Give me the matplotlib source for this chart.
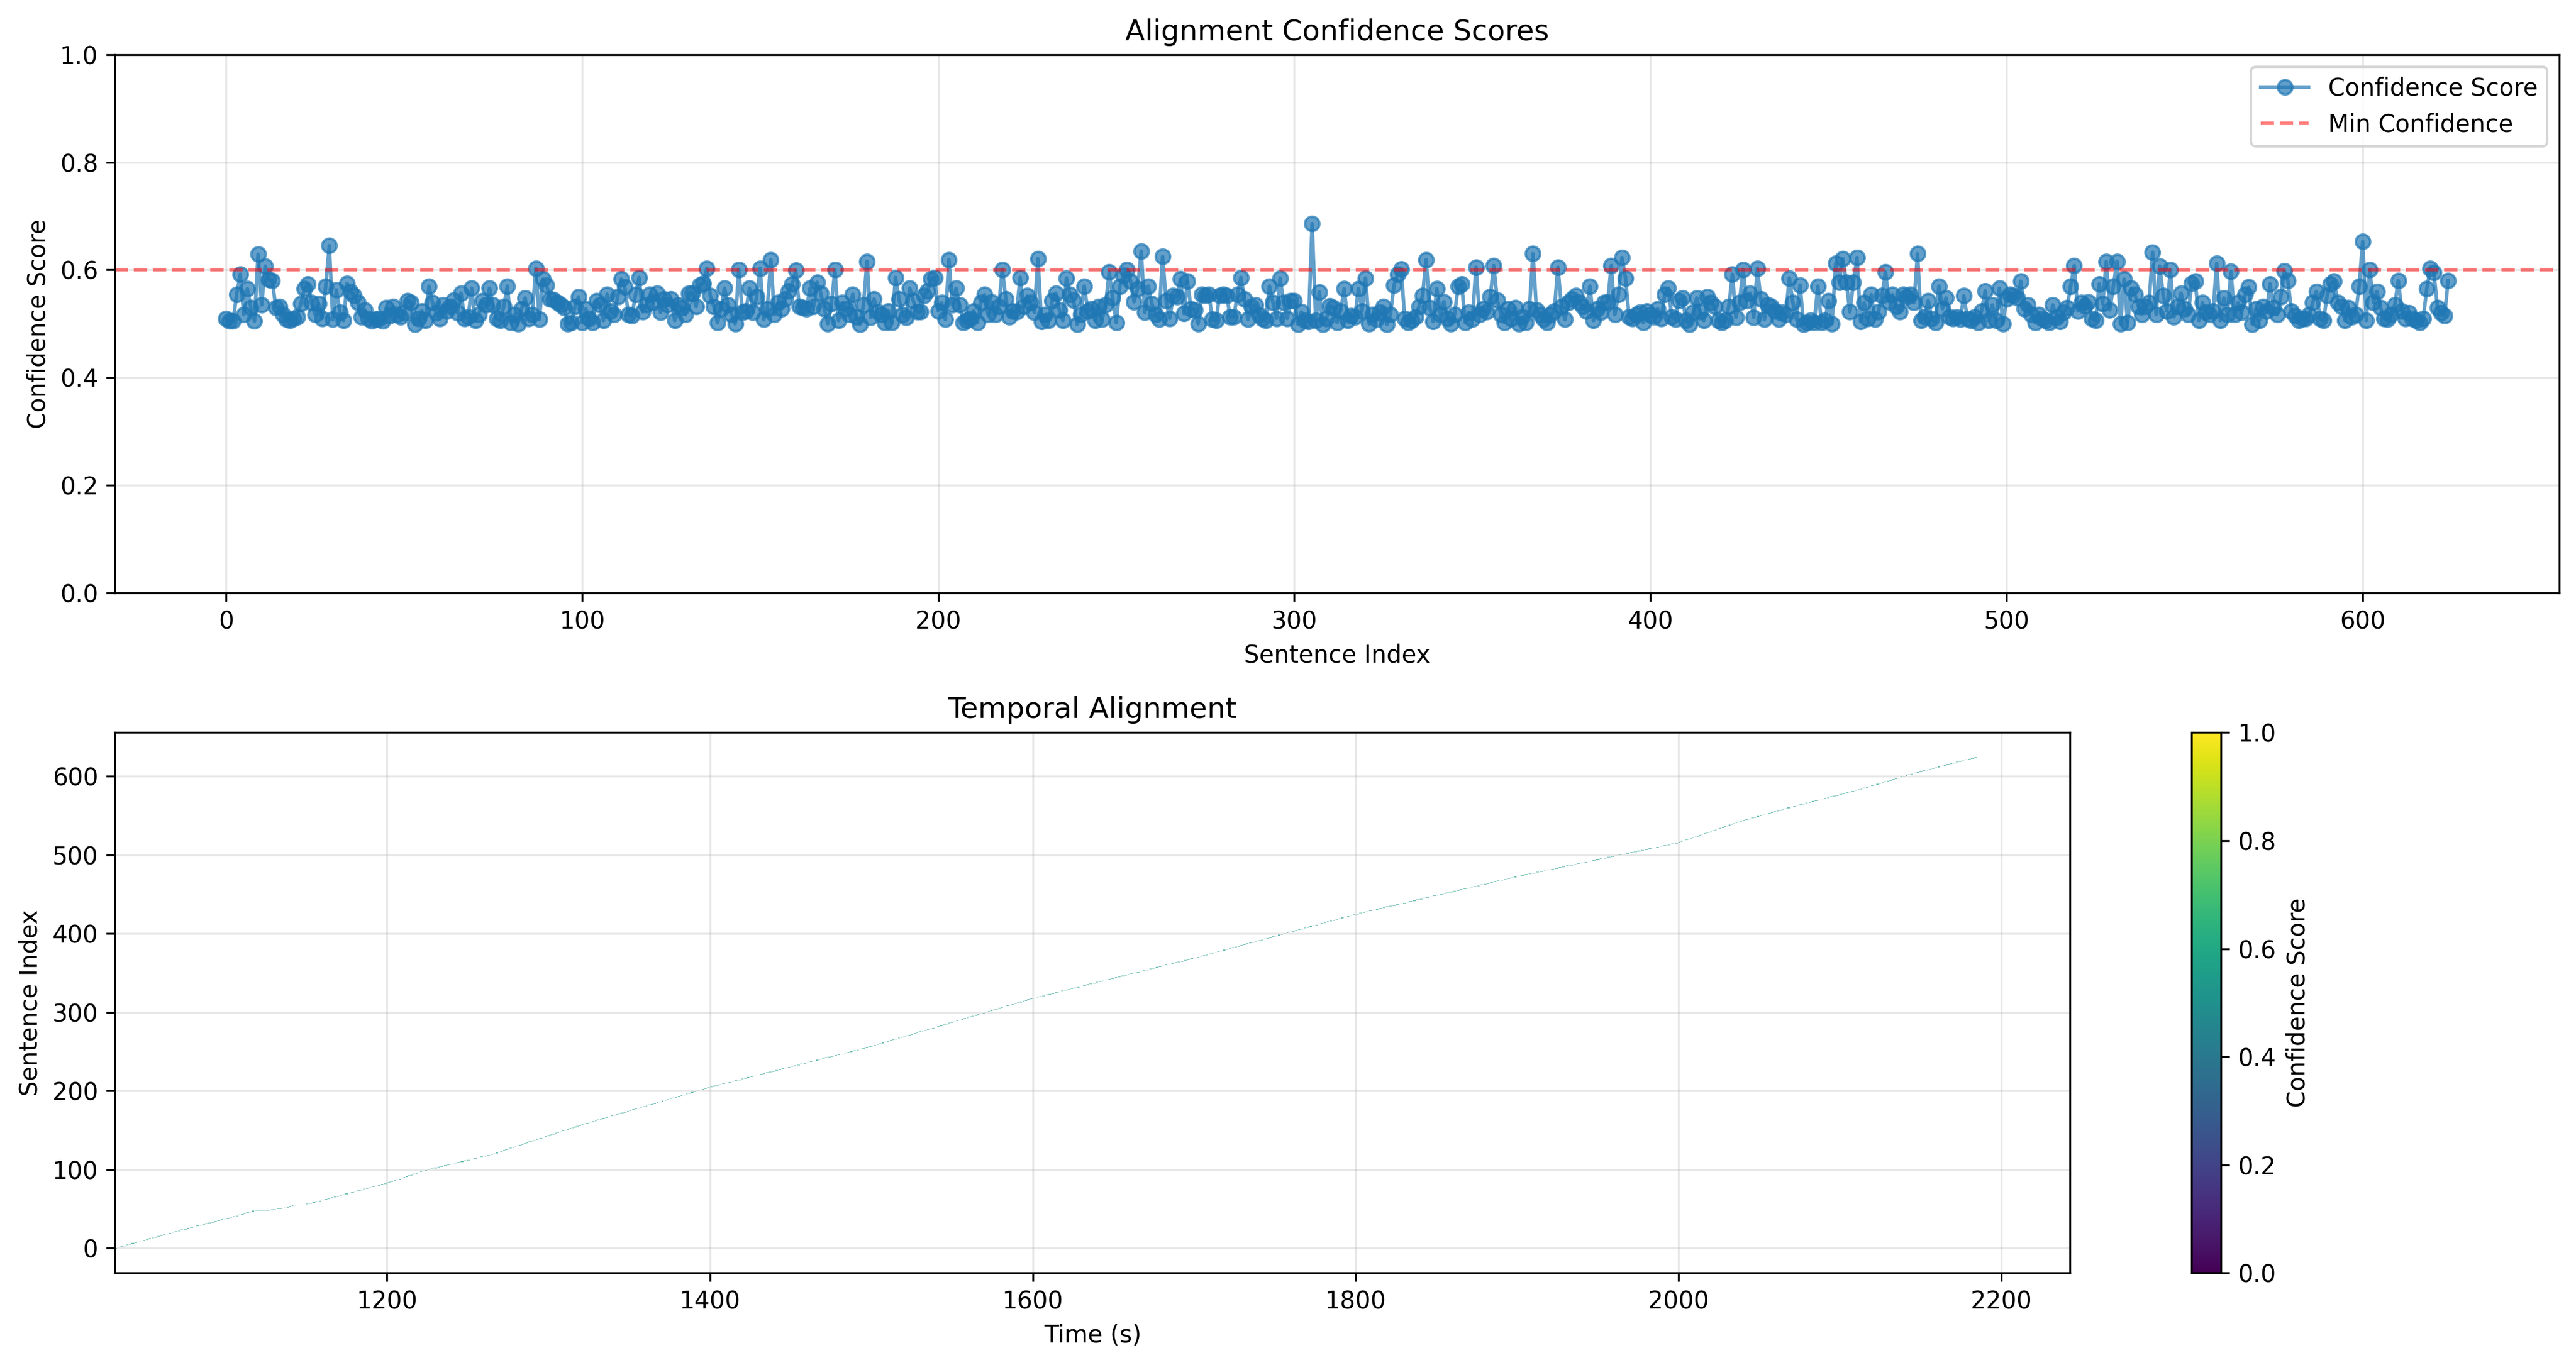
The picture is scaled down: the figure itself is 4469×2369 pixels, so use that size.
import numpy as np
import matplotlib
matplotlib.use("Agg")
from matplotlib import pyplot as plt
from matplotlib.cm import ScalarMappable
from matplotlib.colors import Normalize

# confidence score per sentence
confidence = [
    0.51, 0.505, 0.505, 0.555, 0.592, 0.517, 0.565, 0.53, 0.505, 0.629,
    0.535, 0.607, 0.582, 0.58, 0.53, 0.532, 0.517, 0.508, 0.506, 0.51,
    0.513, 0.537, 0.565, 0.574, 0.539, 0.517, 0.537, 0.51, 0.57, 0.645,
    0.508, 0.563, 0.521, 0.506, 0.575, 0.56, 0.552, 0.54, 0.513, 0.526,
    0.51, 0.505, 0.508, 0.51, 0.505, 0.53, 0.515, 0.532, 0.517, 0.513,
    0.52, 0.543, 0.539, 0.499, 0.51, 0.524, 0.506, 0.57, 0.539, 0.52,
    0.51, 0.535, 0.524, 0.532, 0.544, 0.52, 0.557, 0.51, 0.513, 0.566,
    0.506, 0.517, 0.543, 0.535, 0.566, 0.535, 0.51, 0.506, 0.532, 0.57,
    0.502, 0.517, 0.50, 0.528, 0.548, 0.51, 0.517, 0.603, 0.508, 0.583,
    0.572, 0.546, 0.545, 0.539, 0.535, 0.53, 0.50, 0.502, 0.532, 0.55,
    0.502, 0.528, 0.51, 0.502, 0.543, 0.535, 0.506, 0.555, 0.524, 0.517,
    0.55, 0.583, 0.568, 0.517, 0.515, 0.554, 0.586, 0.522, 0.535, 0.554,
    0.54, 0.557, 0.521, 0.546, 0.535, 0.546, 0.506, 0.535, 0.53, 0.517,
    0.557, 0.557, 0.532, 0.572, 0.575, 0.603, 0.552, 0.532, 0.502, 0.528,
    0.566, 0.535, 0.517, 0.50, 0.601, 0.521, 0.524, 0.566, 0.521, 0.55,
    0.603, 0.508, 0.528, 0.619, 0.517, 0.539, 0.528, 0.546, 0.561, 0.574,
    0.599, 0.532, 0.53, 0.528, 0.566, 0.532, 0.577, 0.557, 0.528, 0.50,
    0.537, 0.60, 0.506, 0.539, 0.528, 0.517, 0.555, 0.513, 0.499, 0.535,
    0.616, 0.512, 0.546, 0.522, 0.517, 0.502, 0.524, 0.502, 0.586, 0.546,
    0.517, 0.512, 0.566, 0.543, 0.522, 0.522, 0.552, 0.561, 0.583, 0.586,
    0.524, 0.539, 0.508, 0.619, 0.535, 0.566, 0.535, 0.502, 0.506, 0.51,
    0.524, 0.502, 0.539, 0.554, 0.517, 0.541, 0.517, 0.532, 0.601, 0.546,
    0.513, 0.524, 0.522, 0.586, 0.532, 0.552, 0.539, 0.521, 0.621, 0.504,
    0.517, 0.506, 0.543, 0.557, 0.526, 0.506, 0.585, 0.554, 0.544, 0.499,
    0.517, 0.57, 0.524, 0.528, 0.506, 0.532, 0.508, 0.535, 0.596, 0.548,
    0.502, 0.57, 0.59, 0.601, 0.579, 0.541, 0.565, 0.635, 0.521, 0.57,
    0.537, 0.517, 0.508, 0.625, 0.543, 0.51, 0.552, 0.55, 0.583, 0.519,
    0.579, 0.528, 0.526, 0.50, 0.555, 0.552, 0.555, 0.508, 0.506, 0.552,
    0.555, 0.552, 0.513, 0.513, 0.554, 0.586, 0.546, 0.508, 0.532, 0.535,
    0.517, 0.51, 0.506, 0.57, 0.539, 0.51, 0.585, 0.539, 0.51, 0.543,
    0.543, 0.499, 0.522, 0.506, 0.504, 0.686, 0.506, 0.559, 0.499, 0.51,
    0.533, 0.53, 0.502, 0.524, 0.565, 0.506, 0.515, 0.513, 0.565, 0.524,
    0.585, 0.50, 0.517, 0.508, 0.521, 0.532, 0.499, 0.517, 0.572, 0.592,
    0.602, 0.51, 0.502, 0.506, 0.513, 0.532, 0.552, 0.619, 0.53, 0.504,
    0.565, 0.517, 0.541, 0.51, 0.50, 0.517, 0.57, 0.574, 0.502, 0.521,
    0.508, 0.605, 0.517, 0.528, 0.522, 0.55, 0.608, 0.544, 0.517, 0.502,
    0.528, 0.51, 0.53, 0.50, 0.513, 0.502, 0.528, 0.63, 0.526, 0.517,
    0.508, 0.502, 0.517, 0.524, 0.605, 0.532, 0.508, 0.539, 0.546, 0.552,
    0.539, 0.532, 0.524, 0.57, 0.506, 0.528, 0.521, 0.539, 0.541, 0.608,
    0.517, 0.554, 0.623, 0.585, 0.513, 0.51, 0.517, 0.521, 0.502, 0.524,
    0.517, 0.513, 0.528, 0.51, 0.554, 0.566, 0.513, 0.508, 0.543, 0.548,
    0.506, 0.499, 0.521, 0.548, 0.522, 0.506, 0.55, 0.539, 0.532, 0.506,
    0.502, 0.506, 0.532, 0.592, 0.512, 0.539, 0.601, 0.543, 0.557, 0.512,
    0.603, 0.546, 0.508, 0.535, 0.532, 0.524, 0.508, 0.521, 0.517, 0.585,
    0.539, 0.508, 0.572, 0.499, 0.502, 0.506, 0.502, 0.57, 0.502, 0.506,
    0.543, 0.50, 0.612, 0.577, 0.621, 0.577, 0.522, 0.577, 0.623, 0.504,
    0.539, 0.51, 0.554, 0.508, 0.522, 0.552, 0.596, 0.541, 0.554, 0.532,
    0.522, 0.554, 0.55, 0.554, 0.539, 0.63, 0.506, 0.513, 0.543, 0.51,
    0.502, 0.57, 0.528, 0.548, 0.513, 0.51, 0.513, 0.508, 0.552, 0.51,
    0.506, 0.513, 0.502, 0.524, 0.561, 0.506, 0.535, 0.506, 0.566, 0.50,
    0.546, 0.554, 0.552, 0.548, 0.579, 0.528, 0.535, 0.517, 0.502, 0.517,
    0.51, 0.506, 0.502, 0.535, 0.512, 0.504, 0.521, 0.53, 0.57, 0.608,
    0.524, 0.539, 0.533, 0.541, 0.51, 0.506, 0.574, 0.537, 0.616, 0.526,
    0.57, 0.616, 0.50, 0.583, 0.502, 0.566, 0.555, 0.532, 0.517, 0.532,
    0.539, 0.633, 0.517, 0.607, 0.552, 0.524, 0.60, 0.513, 0.532, 0.557,
    0.528, 0.517, 0.575, 0.579, 0.506, 0.539, 0.521, 0.517, 0.524, 0.612,
    0.506, 0.548, 0.517, 0.597, 0.517, 0.539, 0.521, 0.554, 0.568, 0.499,
    0.528, 0.506, 0.532, 0.524, 0.574, 0.53, 0.517, 0.55, 0.598, 0.58,
    0.524, 0.515, 0.506, 0.51, 0.51, 0.517, 0.54, 0.56, 0.51, 0.506,
    0.552, 0.574, 0.579, 0.54, 0.532, 0.506, 0.53, 0.513, 0.517, 0.57,
    0.653, 0.506, 0.60, 0.54, 0.56, 0.53, 0.51, 0.508, 0.517, 0.535,
    0.58, 0.524, 0.51, 0.52, 0.51, 0.506, 0.502, 0.51, 0.565, 0.603,
    0.595, 0.53, 0.52, 0.515, 0.58,
]

# sentence start times in seconds
start_time = [
    1031.5, 1033.2, 1035.1, 1036.6, 1038.5, 1040.3, 1041.9, 1043.8, 1045.4, 1047.3,
    1049.1, 1050.7, 1052.6, 1054.2, 1056.0, 1057.9, 1059.4, 1061.3, 1063.0, 1064.8,
    1066.6, 1068.4, 1070.5, 1072.2, 1074.3, 1076.1, 1078.0, 1080.0, 1081.8, 1083.7,
    1085.5, 1087.5, 1089.3, 1091.3, 1093.1, 1095.0, 1096.9, 1098.8, 1100.7, 1102.6,
    1104.5, 1106.2, 1107.9, 1109.6, 1111.2, 1112.9, 1114.6, 1116.3, 1118.5, 1128.0,
    1132.0, 1136.5, 1138.0, 1139.6, 1141.0, 1142.4, 1149.8, 1151.8, 1153.8, 1155.8,
    1157.8, 1159.5, 1161.5, 1163.2, 1165.1, 1166.9, 1168.8, 1170.5, 1172.4, 1174.2,
    1176.1, 1177.9, 1179.7, 1181.6, 1183.3, 1185.2, 1187.0, 1188.9, 1190.6, 1192.5,
    1194.4, 1196.2, 1198.1, 1200.0, 1201.4, 1202.9, 1204.4, 1205.8, 1207.4, 1208.8,
    1210.3, 1211.8, 1213.2, 1214.7, 1216.2, 1217.6, 1219.1, 1220.6, 1222.0, 1223.5,
    1225.0, 1227.1, 1229.0, 1231.2, 1233.2, 1235.3, 1237.3, 1239.4, 1241.4, 1243.5,
    1245.5, 1247.6, 1249.6, 1251.7, 1253.7, 1255.8, 1257.8, 1259.9, 1261.9, 1264.0,
    1266.0, 1267.3, 1269.0, 1270.2, 1271.9, 1273.1, 1274.8, 1276.0, 1277.7, 1279.0,
    1280.6, 1281.9, 1283.5, 1284.8, 1286.4, 1287.6, 1289.3, 1290.5, 1292.2, 1293.5,
    1295.0, 1296.7, 1298.0, 1299.6, 1301.1, 1302.4, 1304.1, 1305.5, 1306.9, 1308.6,
    1309.9, 1311.6, 1313.0, 1314.4, 1316.1, 1317.4, 1319.1, 1320.5, 1322.0, 1323.5,
    1325.3, 1326.9, 1328.6, 1330.2, 1331.9, 1333.5, 1335.3, 1336.8, 1338.6, 1340.2,
    1341.9, 1343.5, 1345.2, 1346.8, 1348.6, 1350.1, 1351.9, 1353.5, 1355.2, 1356.8,
    1358.5, 1360.1, 1361.9, 1363.4, 1365.2, 1366.8, 1368.5, 1370.1, 1371.8, 1373.4,
    1375.2, 1376.7, 1378.5, 1380.1, 1381.8, 1383.4, 1385.1, 1386.7, 1388.5, 1390.0,
    1391.8, 1393.4, 1395.1, 1396.7, 1398.4, 1400.0, 1401.8, 1403.9, 1405.7, 1407.7,
    1409.6, 1411.6, 1413.4, 1415.4, 1417.3, 1419.3, 1421.1, 1423.2, 1425.0, 1427.0,
    1428.9, 1430.9, 1432.7, 1434.8, 1436.6, 1438.6, 1440.5, 1442.5, 1444.3, 1446.3,
    1448.2, 1450.2, 1452.0, 1454.1, 1455.9, 1457.9, 1459.8, 1461.8, 1463.6, 1465.7,
    1467.5, 1469.5, 1471.4, 1473.4, 1475.2, 1477.2, 1479.1, 1481.1, 1482.9, 1485.0,
    1486.8, 1488.8, 1490.7, 1492.7, 1494.5, 1496.5, 1498.3, 1500.0, 1501.5, 1503.3,
    1504.9, 1506.5, 1508.2, 1509.8, 1511.4, 1513.1, 1514.7, 1516.4, 1518.0, 1519.7,
    1521.3, 1522.9, 1524.6, 1526.2, 1527.9, 1529.5, 1531.1, 1532.8, 1534.4, 1536.1,
    1537.7, 1539.3, 1541.0, 1542.6, 1544.3, 1545.9, 1547.5, 1549.2, 1550.8, 1552.5,
    1554.1, 1555.7, 1557.4, 1559.0, 1560.7, 1562.3, 1563.9, 1565.6, 1567.2, 1568.9,
    1570.5, 1572.1, 1573.8, 1575.4, 1577.1, 1578.7, 1580.3, 1582.0, 1583.6, 1585.3,
    1586.9, 1588.5, 1590.2, 1591.8, 1593.5, 1595.1, 1596.7, 1598.4, 1600.0, 1601.9,
    1604.0, 1605.9, 1607.8, 1609.8, 1611.7, 1613.7, 1615.6, 1617.6, 1619.5, 1621.5,
    1623.4, 1625.4, 1627.3, 1629.3, 1631.2, 1633.2, 1635.1, 1637.1, 1639.0, 1641.0,
    1642.9, 1644.9, 1646.8, 1648.8, 1650.7, 1652.7, 1654.6, 1656.6, 1658.5, 1660.5,
    1662.4, 1664.4, 1666.3, 1668.3, 1670.2, 1672.2, 1674.1, 1676.1, 1678.0, 1680.0,
    1681.9, 1683.9, 1685.8, 1687.8, 1689.7, 1691.7, 1693.6, 1695.6, 1697.6, 1700.0,
    1701.7, 1703.5, 1705.3, 1707.1, 1708.9, 1710.7, 1712.5, 1714.2, 1716.0, 1717.9,
    1719.6, 1721.4, 1723.2, 1725.0, 1726.8, 1728.6, 1730.3, 1732.1, 1734.0, 1735.7,
    1737.5, 1739.3, 1741.1, 1742.9, 1744.6, 1746.4, 1748.2, 1750.0, 1751.8, 1753.6,
    1755.4, 1757.1, 1758.9, 1760.7, 1762.5, 1764.3, 1766.1, 1767.9, 1769.6, 1771.4,
    1773.2, 1775.0, 1776.8, 1778.6, 1780.4, 1782.1, 1783.9, 1785.7, 1787.5, 1789.3,
    1791.1, 1792.9, 1794.6, 1796.4, 1798.2, 1800.0, 1802.0, 1804.2, 1806.2, 1808.3,
    1810.4, 1812.5, 1814.6, 1816.7, 1818.7, 1820.8, 1822.9, 1825.0, 1827.1, 1829.2,
    1831.2, 1833.3, 1835.4, 1837.5, 1839.6, 1841.7, 1843.7, 1845.8, 1847.9, 1850.0,
    1852.1, 1854.2, 1856.2, 1858.3, 1860.4, 1862.5, 1864.6, 1866.7, 1868.7, 1870.8,
    1872.9, 1875.0, 1877.1, 1879.2, 1881.2, 1883.3, 1885.4, 1887.5, 1889.6, 1891.7,
    1893.7, 1895.8, 1897.9, 1900.0, 1902.3, 1904.7, 1907.0, 1909.3, 1911.6, 1914.0,
    1916.3, 1918.6, 1920.9, 1923.3, 1925.6, 1927.9, 1930.2, 1932.6, 1934.9, 1937.2,
    1939.5, 1941.9, 1944.2, 1946.5, 1948.8, 1951.2, 1953.5, 1955.8, 1958.1, 1960.5,
    1962.8, 1965.1, 1967.4, 1969.8, 1972.1, 1974.4, 1976.7, 1979.1, 1981.4, 1983.7,
    1986.0, 1988.4, 1990.7, 1993.0, 1995.3, 1997.7, 2000.0, 2001.4, 2002.8, 2004.2,
    2005.6, 2007.0, 2008.4, 2009.8, 2011.3, 2012.7, 2014.1, 2015.5, 2016.9, 2018.3,
    2019.7, 2021.1, 2022.5, 2023.9, 2025.3, 2026.7, 2028.1, 2029.5, 2031.0, 2032.4,
    2033.8, 2035.2, 2036.6, 2038.0, 2039.7, 2041.5, 2043.2, 2045.0, 2046.7, 2048.4,
    2050.2, 2051.9, 2053.6, 2055.4, 2057.1, 2058.8, 2060.6, 2062.3, 2064.0, 2065.8,
    2067.5, 2069.2, 2071.0, 2072.9, 2074.8, 2076.7, 2078.6, 2080.5, 2082.4, 2084.3,
    2086.2, 2088.1, 2090.0, 2091.9, 2093.8, 2095.8, 2097.7, 2099.6, 2101.5, 2103.4,
    2105.3, 2107.2, 2109.1, 2111.0, 2112.6, 2114.3, 2115.9, 2117.6, 2119.2, 2120.9,
    2122.5, 2124.1, 2125.8, 2127.4, 2129.1, 2130.7, 2132.4, 2134.0, 2135.7, 2137.3,
    2138.9, 2140.6, 2142.2, 2143.9, 2145.5, 2147.4, 2149.2, 2151.1, 2153.0, 2154.9,
    2156.7, 2158.6, 2160.5, 2162.4, 2164.2, 2166.1, 2168.0, 2169.9, 2171.7, 2173.6,
    2175.5, 2177.4, 2179.2, 2181.1, 2183.0,
]

# sentence durations in seconds
duration = [
    1.4, 1.6, 1.2, 1.5, 1.6, 1.3, 1.5, 1.4, 1.6, 1.5,
    1.3, 1.6, 1.4, 1.5, 1.6, 1.2, 1.6, 1.5, 1.4, 1.6,
    1.5, 1.8, 1.4, 1.8, 1.6, 1.5, 1.8, 1.4, 1.7, 1.6,
    1.8, 1.5, 1.7, 1.4, 1.6, 1.8, 1.5, 1.7, 1.6, 1.5,
    1.4, 1.5, 1.3, 1.6, 1.4, 1.5, 1.3, 1.6, 9.0, 3.5,
    3.2, 1.2, 1.3, 1.2, 1.1, 1.0, 1.7, 1.6, 1.8, 1.5,
    1.4, 1.7, 1.5, 1.6, 1.4, 1.7, 1.5, 1.6, 1.4, 1.7,
    1.5, 1.6, 1.4, 1.5, 1.7, 1.4, 1.6, 1.5, 1.7, 1.6,
    1.5, 1.6, 1.7, 1.2, 1.3, 1.1, 1.3, 1.2, 1.3, 1.2,
    1.1, 1.3, 1.2, 1.3, 1.1, 1.2, 1.3, 1.2, 1.1, 1.3,
    1.8, 1.6, 1.9, 1.7, 1.8, 1.6, 1.9, 1.7, 1.8, 1.6,
    1.9, 1.7, 1.8, 1.6, 1.9, 1.7, 1.8, 1.6, 1.9, 1.7,
    1.1, 1.4, 1.0, 1.5, 1.1, 1.4, 1.0, 1.5, 1.2, 1.3,
    1.1, 1.4, 1.0, 1.4, 1.1, 1.5, 1.0, 1.4, 1.1, 1.3,
    1.4, 1.1, 1.3, 1.2, 1.1, 1.4, 1.2, 1.1, 1.5, 1.1,
    1.4, 1.2, 1.1, 1.5, 1.1, 1.4, 1.2, 1.3, 1.2, 1.5,
    1.3, 1.4, 1.3, 1.5, 1.2, 1.4, 1.3, 1.5, 1.2, 1.4,
    1.4, 1.3, 1.5, 1.2, 1.4, 1.3, 1.5, 1.4, 1.2, 1.3,
    1.5, 1.2, 1.4, 1.3, 1.5, 1.2, 1.4, 1.3, 1.4, 1.5,
    1.2, 1.4, 1.3, 1.5, 1.2, 1.4, 1.3, 1.5, 1.2, 1.4,
    1.3, 1.5, 1.2, 1.4, 1.3, 1.6, 1.8, 1.5, 1.7, 1.6,
    1.4, 1.8, 1.6, 1.5, 1.7, 1.6, 1.8, 1.4, 1.7, 1.5,
    1.6, 1.8, 1.5, 1.7, 1.6, 1.4, 1.8, 1.6, 1.5, 1.7,
    1.6, 1.8, 1.5, 1.7, 1.4, 1.6, 1.8, 1.5, 1.7, 1.6,
    1.5, 1.7, 1.6, 1.8, 1.4, 1.6, 1.5, 1.8, 1.7, 1.6,
    1.4, 1.7, 1.5, 1.8, 1.6, 1.5, 1.7, 1.3, 1.4, 1.2,
    1.5, 1.3, 1.4, 1.2, 1.5, 1.3, 1.4, 1.2, 1.3, 1.5,
    1.2, 1.4, 1.3, 1.5, 1.2, 1.4, 1.3, 1.5, 1.4, 1.2,
    1.3, 1.5, 1.2, 1.4, 1.3, 1.5, 1.2, 1.4, 1.3, 1.2,
    1.5, 1.3, 1.4, 1.2, 1.5, 1.3, 1.4, 1.2, 1.3, 1.5,
    1.2, 1.4, 1.3, 1.5, 1.2, 1.4, 1.3, 1.5, 1.4, 1.2,
    1.3, 1.5, 1.2, 1.4, 1.3, 1.5, 1.2, 1.4, 1.6, 1.8,
    1.5, 1.7, 1.6, 1.8, 1.5, 1.7, 1.6, 1.5, 1.8, 1.6,
    1.7, 1.5, 1.8, 1.6, 1.7, 1.5, 1.6, 1.8, 1.5, 1.7,
    1.6, 1.8, 1.5, 1.7, 1.6, 1.5, 1.8, 1.6, 1.7, 1.5,
    1.8, 1.6, 1.7, 1.5, 1.6, 1.8, 1.5, 1.7, 1.6, 1.8,
    1.5, 1.7, 1.6, 1.5, 1.8, 1.6, 1.7, 1.5, 1.9, 1.4,
    1.5, 1.3, 1.6, 1.4, 1.5, 1.3, 1.6, 1.4, 1.5, 1.6,
    1.3, 1.5, 1.4, 1.6, 1.3, 1.5, 1.4, 1.6, 1.3, 1.5,
    1.4, 1.6, 1.5, 1.3, 1.6, 1.4, 1.5, 1.3, 1.6, 1.4,
    1.5, 1.3, 1.6, 1.4, 1.5, 1.6, 1.3, 1.5, 1.4, 1.6,
    1.3, 1.5, 1.4, 1.6, 1.5, 1.3, 1.6, 1.4, 1.5, 1.3,
    1.6, 1.4, 1.5, 1.3, 1.6, 1.7, 1.9, 1.6, 1.8, 1.7,
    1.9, 1.6, 1.8, 1.7, 1.6, 1.9, 1.7, 1.8, 1.6, 1.9,
    1.7, 1.8, 1.6, 1.9, 1.7, 1.6, 1.8, 1.9, 1.7, 1.6,
    1.8, 1.7, 1.9, 1.6, 1.8, 1.7, 1.6, 1.9, 1.7, 1.8,
    1.6, 1.9, 1.7, 1.8, 1.6, 1.7, 1.9, 1.6, 1.8, 1.7,
    1.9, 1.6, 1.8, 2.0, 1.8, 2.1, 1.9, 2.0, 1.8, 2.1,
    1.9, 2.0, 1.8, 2.1, 2.0, 1.9, 1.8, 2.1, 1.9, 2.0,
    2.1, 1.8, 2.0, 1.9, 2.1, 1.8, 2.0, 1.9, 1.8, 2.1,
    1.9, 2.0, 1.8, 2.1, 2.0, 1.9, 1.8, 2.1, 1.9, 2.0,
    1.8, 2.1, 1.9, 2.0, 1.8, 2.0, 1.1, 1.2, 1.0, 1.3,
    1.1, 1.2, 1.0, 1.3, 1.1, 1.2, 1.0, 1.3, 1.1, 1.2,
    1.0, 1.3, 1.1, 1.2, 1.0, 1.3, 1.1, 1.2, 1.0, 1.3,
    1.1, 1.2, 1.0, 1.2, 1.4, 1.5, 1.3, 1.6, 1.4, 1.5,
    1.3, 1.6, 1.4, 1.5, 1.3, 1.6, 1.4, 1.5, 1.3, 1.6,
    1.4, 1.5, 1.5, 1.7, 1.4, 1.6, 1.5, 1.7, 1.4, 1.6,
    1.5, 1.7, 1.4, 1.6, 1.5, 1.7, 1.4, 1.6, 1.5, 1.7,
    1.4, 1.6, 1.5, 1.3, 1.4, 1.2, 1.5, 1.3, 1.4, 1.2,
    1.5, 1.3, 1.4, 1.2, 1.5, 1.3, 1.4, 1.2, 1.5, 1.3,
    1.4, 1.2, 1.5, 1.3, 1.6, 1.4, 1.7, 1.5, 1.6, 1.4,
    1.7, 1.5, 1.6, 1.4, 1.7, 1.5, 1.6, 1.4, 1.7, 1.5,
    1.6, 1.4, 1.7, 1.5, 1.8,
]

MIN_CONFIDENCE = 0.6

sentence_idx = np.arange(len(confidence))
conf = np.array(confidence)

fig = plt.figure(figsize=(4469 / 300, 2369 / 300))

# top panel: confidence per sentence
ax1 = fig.add_axes([0.0446, 0.5656, 0.9489, 0.3944])
ax1.plot(sentence_idx, conf, 'o-', alpha=0.7, label='Confidence Score')
ax1.axhline(y=MIN_CONFIDENCE, color='r', linestyle='--', alpha=0.5, label='Min Confidence')
ax1.set_ylim(0, 1)
ax1.set_title('Alignment Confidence Scores')
ax1.set_xlabel('Sentence Index')
ax1.set_ylabel('Confidence Score')
ax1.grid(True, alpha=0.3)
ax1.legend(loc='upper right')

# bottom panel: timing of each sentence, coloured by confidence
ax2 = fig.add_axes([0.0446, 0.0674, 0.759, 0.3959])
colors = plt.cm.viridis(conf)
ax2.barh(sentence_idx, duration, left=start_time, color=colors, alpha=0.6)
ax2.set_title('Temporal Alignment')
ax2.set_xlabel('Time (s)')
ax2.set_ylabel('Sentence Index')
ax2.grid(True, alpha=0.3)

cax = fig.add_axes([0.8508, 0.0674, 0.0114, 0.3959])
sm = ScalarMappable(cmap='viridis', norm=Normalize(0, 1))
fig.colorbar(sm, cax=cax, label='Confidence Score')

fig.savefig('out.png', dpi=300)
plt.close(fig)
